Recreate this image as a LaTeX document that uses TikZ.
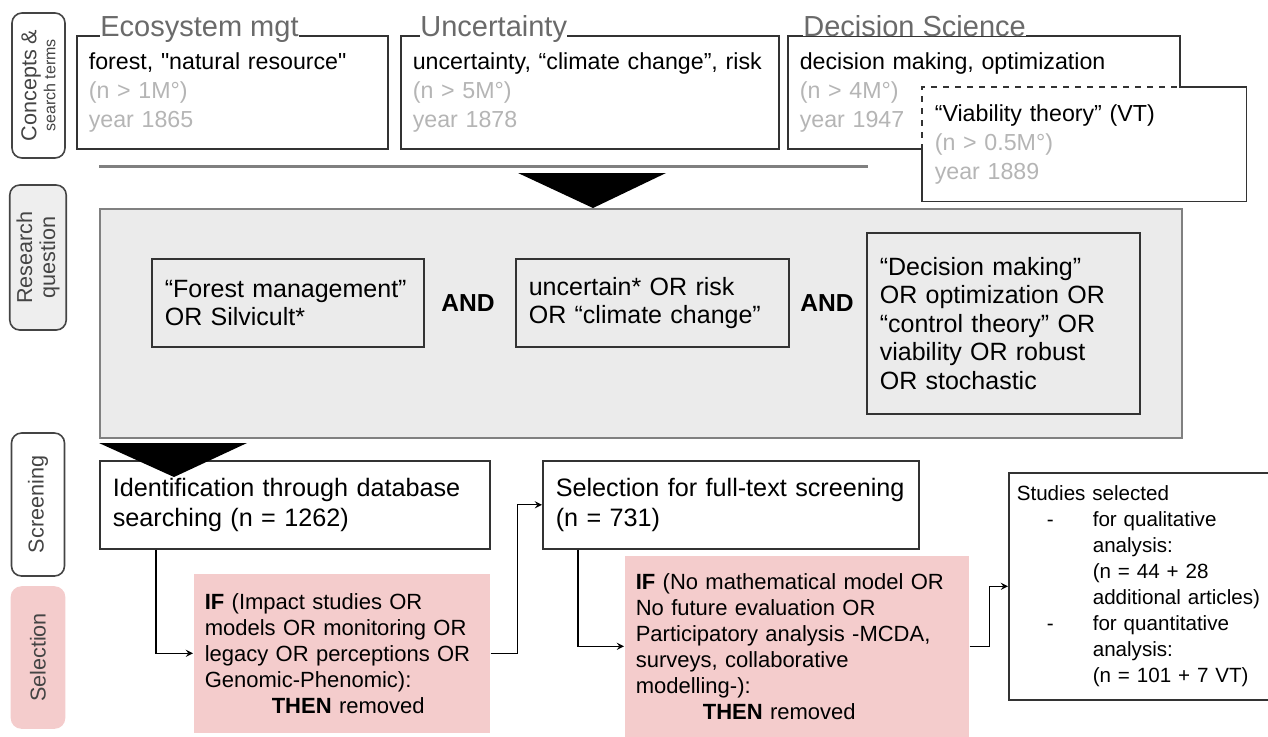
\documentclass[tikz,border=0pt]{standalone}
\usepackage{fontspec}
\setmainfont{Liberation Sans}
\usepackage{xcolor}
\usepackage{tikz}

\definecolor{pinkfill}{HTML}{F4CCCC}
\definecolor{panelgray}{HTML}{EBEBEB}
\definecolor{tagfill}{HTML}{EEEEEE}
\definecolor{headgray}{HTML}{6A6A6A}
\definecolor{faintgray}{HTML}{B5B5B5}
\definecolor{boxline}{HTML}{333333}
\definecolor{taggray}{HTML}{444444}

\begin{document}
\begin{tikzpicture}[x=0.5pt, y=-0.5pt,
        box/.style={rectangle, draw=boxline, line width=0.8pt, anchor=north west, align=left, inner ysep=0pt},
        term/.style={box, fill=white, inner xsep=6pt, minimum height=56.5pt, font=\fontsize{11.6}{14.5}\selectfont},
        heading/.style={anchor=base west, fill=white, inner sep=0pt, text=headgray, font=\fontsize{14.5}{16}\selectfont},
        query/.style={box, fill=panelgray, inner xsep=6.5pt, font=\fontsize{12.5}{14.2}\selectfont},
        andop/.style={font=\fontsize{12.3}{14}\selectfont\bfseries},
        stage/.style={box, fill=white, inner xsep=6.5pt, minimum height=44pt, font=\fontsize{12.6}{15}\selectfont},
        filter/.style={box, draw=none, fill=pinkfill, inner xsep=5.5pt, font=\fontsize{11}{13}\selectfont},
        tag/.style={rectangle, rounded corners=5pt, draw=taggray, line width=0.8pt, rotate=90, align=center, minimum height=26.5pt, text=taggray, font=\fontsize{10.8}{11.5}\selectfont},
        link/.style={->, >=stealth, line width=0.6pt}
    ]
    \useasboundingbox (0,0) rectangle (1268,736);

    % Side tags
    \node[tag, fill=white, minimum width=72.5pt] (tagA) at (38.5,85.5) {Concepts \&\\[-2pt]{\fontsize{8}{9}\selectfont search terms}};
    \node[tag, fill=tagfill, minimum width=72.5pt] (tagB) at (38,257.5) {Research\\question};
    \node[tag, fill=white, minimum width=71.5pt] (tagC) at (38,504.5) {Screening};
    \node[tag, fill=pinkfill, draw=pinkfill, minimum width=70.5pt] (tagD) at (38,657.5) {Selection};

    % Concepts and search terms
    \node[term, text width=143.5pt] (eco) at (76,35) {forest, \textquotedbl natural resource\textquotedbl\\{\color{faintgray}(n > 1M°)}\\{\color{faintgray}year 1865}};
    \node[term, text width=177pt] (unc) at (400,35) {uncertainty, “climate change”, risk\\{\color{faintgray}(n > 5M°)}\\{\color{faintgray}year 1878}};
    \node[term, text width=184pt] (dec) at (787,35) {decision making, optimization\\{\color{faintgray}(n > 4M°)}\\{\color{faintgray}year 1947}};
    \node[heading] (ecoT) at (100,36) {Ecosystem mgt};
    \node[heading] (uncT) at (420,36) {Uncertainty};
    \node[heading] (decT) at (803,36) {Decision Science};

    \node[term, draw=none, text width=149.5pt] (vt) at (922,87) {“Viability theory” (VT)\\{\color{faintgray}(n > 0.5M°)}\\{\color{faintgray}year 1889}};
    \draw[boxline, line width=0.8pt, dashed, dash pattern=on 3pt off 3pt] (vt.west |- dec.south) -- (vt.north west) -- (vt.north -| dec.east);
    \draw[boxline, line width=0.8pt] (vt.north -| dec.east) -- (vt.north east) -- (vt.south east) -- (vt.south west) -- (vt.west |- dec.south);

    \draw[gray, line width=1.5pt] (99,166) -- (868,166);
    \fill (518,173) -- (666,173) -- (593,208) -- cycle;

    % Research question
    \node[box, draw=gray, fill=panelgray, minimum width=541pt, minimum height=114.5pt] (rq) at (99,208) {};
    \node[query, text width=123pt, minimum height=44pt] (q1) at (151,258) {“Forest management”\\OR Silvicult*};
    \node[query, text width=123.5pt, minimum height=44pt] (q2) at (515,258) {uncertain* OR risk\\OR “climate change”};
    \node[query, text width=123.5pt, minimum height=90.5pt] (q3) at (866,232) {“Decision making”\\OR optimization OR\\“control theory” OR\\viability OR robust\\OR stochastic};
    \node[andop] (and1) at (468,303) {AND};
    \node[andop] (and2) at (827,303) {AND};

    % Screening and selection
    \node[stage, text width=182pt] (ident) at (99,460) {Identification through database\\searching (n = 1262)};
    \node[stage, text width=175pt] (full) at (542,460) {Selection for full-text screening\\(n = 731)};
    \fill (99,443) -- (247,443) -- (174,477) -- cycle;

    \node[filter, text width=137pt, minimum height=79.5pt] (rm1) at (193,573) {\textbf{IF} (Impact studies OR\\models OR monitoring OR\\legacy OR perceptions OR\\Genomic-Phenomic):\\\hspace*{33.5pt}\textbf{THEN} removed};
    \node[filter, text width=161pt, minimum height=90.5pt] (rm2) at (624,555) {\textbf{IF} (No mathematical model OR\\No future evaluation OR\\Participatory analysis -MCDA,\\surveys, collaborative\\modelling-):\\\hspace*{33.5pt}\textbf{THEN} removed};

    \node[box, fill=white, inner xsep=4pt, text width=128pt, minimum height=113.5pt, font=\fontsize{10.3}{13}\selectfont] (studies) at (1008,472) {Studies selected\\
        \hspace*{15pt}\makebox[23pt][l]{-}for qualitative\\
        \hspace*{38pt}analysis:\\
        \hspace*{38pt}(n = 44 + 28\\
        \hspace*{38pt}additional articles)\\
        \hspace*{15pt}\makebox[23pt][l]{-}for quantitative\\
        \hspace*{38pt}analysis:\\
        \hspace*{38pt}(n = 101 + 7 VT)};

    % Arrows
    \draw[link] ([xshift=28.5pt]ident.south west) |- (rm1.west);
    \draw[link] (rm1.east) -- ++(27,0) |- (full.west);
    \draw[link] ([xshift=18pt]full.south west) |- (rm2.west);
    \draw[link] (rm2.east) -- ++(20,0) |- (studies.west);

\end{tikzpicture}
\end{document}
